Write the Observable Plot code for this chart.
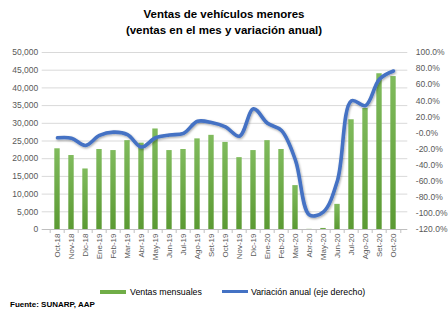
<!DOCTYPE html>
<html>
<head>
<meta charset="utf-8">
<script src="https://cdn.jsdelivr.net/npm/d3@7"></script>
<script src="https://cdn.jsdelivr.net/npm/@observablehq/plot@0.6"></script>
<style>
  body { margin: 0; background: #fff; }
  #wrap { position: relative; width: 448px; height: 322px; font-family: "Liberation Sans", Arial, sans-serif; color: #000; }
  #title { position: absolute; top: 7px; left: 0; width: 448px; text-align: center; font-weight: bold; font-size: 11.5px; line-height: 15.5px; }
  #chart { position: absolute; top: 40px; left: 0; }
  .leg { position: absolute; font-size: 8.8px; top: 286px; line-height: 12px; color: #000; }
  .sw { position: absolute; }
  #src { position: absolute; left: 10px; top: 299px; font-size: 8px; font-weight: bold; line-height: 12px; }
</style>
</head>
<body>
<div id="wrap">
  <div id="title">Ventas de vehículos menores<br>(ventas en el mes y variación anual)</div>
  <div id="chart"></div>
  <div class="sw" style="left:100px;top:290px;width:26px;height:4px;background:#70ad47"></div>
  <div class="leg" style="left:130px">Ventas mensuales</div>
  <div class="sw" style="left:222px;top:290px;width:26px;height:3px;background:#4472c4"></div>
  <div class="leg" style="left:251px">Variación anual (eje derecho)</div>
  <div id="src">Fuente: SUNARP, AAP</div>
</div>
<script>
const months = ["Oct-18","Nov-18","Dic-18","Ene-19","Feb-19","Mar-19","Abr-19","May-19","Jun-19","Jul-19","Ago-19","Set-19","Oct-19","Nov-19","Dic-19","Ene-20","Feb-20","Mar-20","Abr-20","May-20","Jun-20","Jul-20","Ago-20","Set-20","Oct-20"];
const ventas = [22800, 20900, 17100, 22600, 22300, 25100, 24400, 28400, 22300, 22600, 25600, 26600, 24600, 20300, 22300, 25100, 22600, 12400, 50, 300, 7100, 31000, 34200, 44000, 43200];
const variacion = [-6, -6.5, -15.5, -3, 1, -2, -17.5, -6, -2.5, -0.5, 14.5, 13, 7.5, -4, 30, 12, 3, -34, -102, -98, -59, 40, 34, 67, 77];
const leftTicks = [0, 5000, 10000, 15000, 20000, 25000, 30000, 35000, 40000, 45000, 50000];
const rightTicks = [100, 80, 60, 40, 20, 0, -20, -40, -60, -80, -100, -120];

const leftMax = 50000, rMin = -120, rMax = 100;
const toLeft = p => (p - rMin) / (rMax - rMin) * leftMax;
const fromLeft = v => v / leftMax * (rMax - rMin) + rMin;

const data = months.map((m, i) => ({mes: m, ventas: ventas[i], var: variacion[i], varL: toLeft(variacion[i])}));

const W = 448, H = 240, mL = 41.7, mR = 40.7;
const step = (W - mL - mR) / months.length;

const chart = Plot.plot({
  width: W, height: H,
  marginTop: 12, marginBottom: 51, marginLeft: mL, marginRight: mR,
  x: {domain: months, padding: 0, label: null},
  y: {domain: [0, leftMax], label: null},
  style: {fontFamily: "Liberation Sans, Arial, sans-serif", fontSize: "8.5px", color: "#595959", background: "transparent", overflow: "visible"},
  marks: [
    Plot.ruleY(leftTicks.filter(d => d > 0), {stroke: "#d9d9d9", strokeWidth: 1}),
    Plot.barY(data, {x: "mes", y: "ventas", fill: "url(#gv)", insetLeft: 4.3, insetRight: 4.3}),
    Plot.ruleY([0], {stroke: "#bfbfbf", strokeWidth: 1}),
    Plot.axisY(leftTicks, {anchor: "left", tickSize: 0, tickPadding: 4, tickFormat: d3.format(","), fill: "#595959", label: null}),
    Plot.axisY(rightTicks.map(toLeft), {anchor: "right", tickSize: 0, tickPadding: 8, tickFormat: d => fromLeft(d).toFixed(1) + "%", fill: "#595959", label: null}),
    Plot.axisX({tickSize: 0, tickRotate: -90, tickPadding: 4, fontSize: 8, fill: "#595959", label: null}),
    Plot.axisX({tickSize: 4, tickFormat: () => "", dx: -step / 2, stroke: "#bfbfbf", label: null}),
    Plot.axisX([months[months.length - 1]], {tickSize: 4, tickFormat: () => "", dx: step / 2, stroke: "#bfbfbf", label: null}),
    Plot.line(data, {x: "mes", y: "varL", stroke: "#4472c4", strokeWidth: 3.6, curve: "catmull-rom", strokeLinecap: "round", strokeLinejoin: "round"})
  ]
});

const svg = d3.select(chart);
const defs = svg.insert("defs", ":first-child");
const g = defs.append("linearGradient").attr("id", "gv").attr("x1", 0).attr("y1", 0).attr("x2", 0).attr("y2", 1);
g.append("stop").attr("offset", "0%").attr("stop-color", "#80bb5d");
g.append("stop").attr("offset", "100%").attr("stop-color", "#5b9a33");
const f = defs.append("filter").attr("id", "sh").attr("x", "-10%").attr("y", "-10%").attr("width", "120%").attr("height", "130%");
f.append("feDropShadow").attr("dx", 0.8).attr("dy", 1.2).attr("stdDeviation", 1).attr("flood-color", "#000").attr("flood-opacity", 0.35);
svg.selectAll("g[aria-label='line'] path").attr("filter", "url(#sh)");

document.getElementById("chart").appendChild(chart);
</script>
</body>
</html>
